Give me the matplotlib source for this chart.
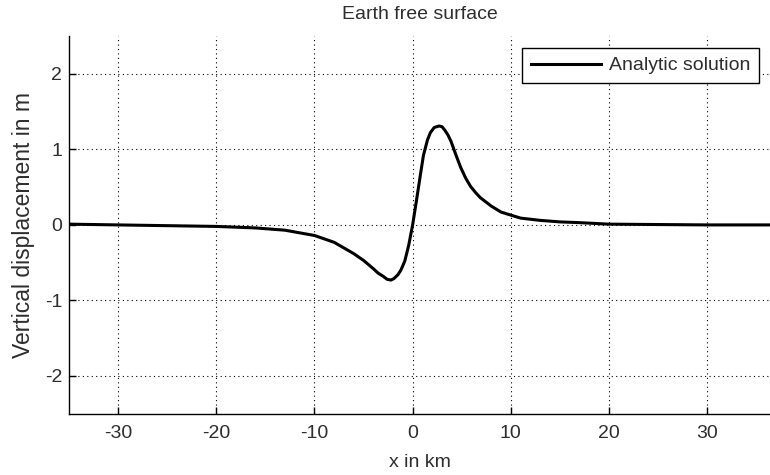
# Earth free surface - vertical displacement along the profile

import matplotlib.pyplot as plt

plt.rcParams['font.family'] = ['Liberation Sans', 'DejaVu Sans']

plt.rcParams['axes.unicode_minus'] = False


# values

x_km = [-35, -30, -25, -20, -16, -13, -10, -8, -6, -5, -4, -3.5, -3,
        -2.6, -2.2, -1.9, -1.5, -1.2, -0.8, -0.4, 0, 0.4, 0.8, 1.1,
        1.5, 1.8, 2.2, 2.7, 3.0, 3.3, 3.6, 3.9, 4.4, 4.9, 5.4, 5.9,
        6.4, 6.9, 7.5, 8, 9, 11, 13, 15, 17, 20, 25, 30, 36.4]

uz_m = [0.01, 0.0, -0.01, -0.02, -0.04, -0.07, -0.14, -0.23, -0.38,
        -0.47, -0.58, -0.64, -0.68, -0.72, -0.73, -0.71, -0.66, -0.60,
        -0.48, -0.27, 0.0, 0.33, 0.67, 0.92, 1.12, 1.22, 1.29, 1.31,
        1.30, 1.25, 1.19, 1.11, 0.93, 0.76, 0.62, 0.51, 0.43, 0.36,
        0.30, 0.25, 0.17, 0.09, 0.06, 0.04, 0.03, 0.01, 0.005, 0.0, 0.0]

x_ticks = [-30, -20, -10, 0, 10, 20, 30]

y_ticks = [-2, -1, 0, 1, 2]


text_color = '#2e2e2e'


fig = plt.figure(figsize=(7.7, 4.75), dpi=100)

ax = fig.add_axes([0.0896, 0.129, 0.9104, 0.795])


ax.plot(
    x_km,
    uz_m,
    color='black',
    linewidth=2.2,
    label='Analytic solution'
)


ax.set_xlim(-35, 36.4)

ax.set_ylim(-2.5, 2.5)

ax.set_xticks(x_ticks)

ax.set_yticks(y_ticks)


ax.grid(True, color='black', linestyle=(0, (1, 3)), linewidth=0.8)

ax.set_axisbelow(True)


for side in ['top', 'right']:
    ax.spines[side].set_visible(False)

for side in ['left', 'bottom']:
    ax.spines[side].set_color('black')
    ax.spines[side].set_linewidth(1.0)

ax.tick_params(direction='in', length=5, width=1, labelsize=14,
               color='black', labelcolor=text_color)

ax.tick_params(axis='x', pad=8)

ax.tick_params(axis='y', pad=5)


ax.set_xlabel("x in km", fontsize=14, color=text_color, labelpad=9)

ax.set_ylabel("Vertical displacement in m", fontsize=16.5,
              color=text_color, labelpad=7)

ax.set_title("Earth free surface", fontsize=14, color=text_color, pad=12)


leg = ax.legend(
    loc='upper right',
    bbox_to_anchor=(759 / 770, 1 - 48 / 475),
    bbox_transform=fig.transFigure,
    borderaxespad=0,
    fancybox=False,
    framealpha=1,
    edgecolor='black',
    fontsize=14,
    handlelength=3.6,
    handletextpad=0.4,
    borderpad=0.45
)

leg.get_frame().set_linewidth(1.0)

for t in leg.get_texts():
    t.set_color(text_color)


fig.savefig("out.png", dpi=100)
